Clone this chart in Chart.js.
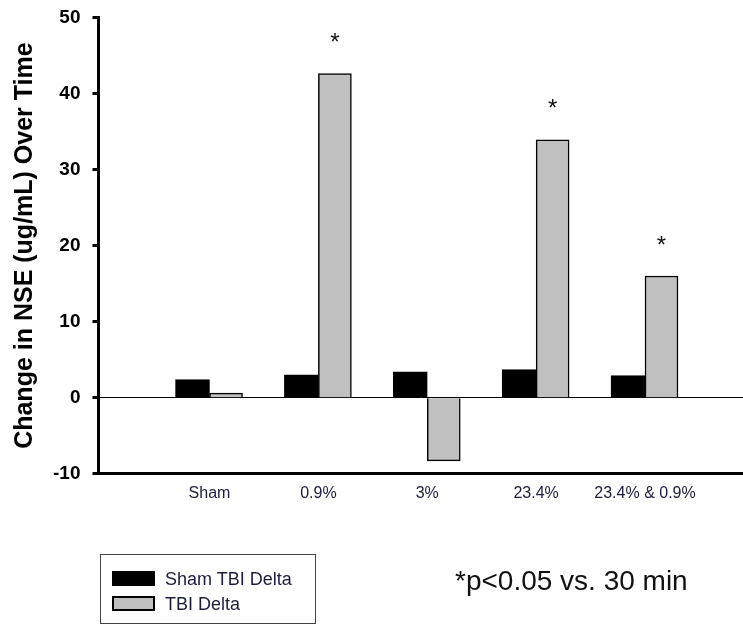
<!DOCTYPE html>
<html>
<head>
<meta charset="utf-8">
<script src="https://cdn.jsdelivr.net/npm/chart.js@4/dist/chart.umd.min.js"></script>
<style>
  body { margin: 0; background: #fff; }
  #wrap { position: relative; width: 743px; height: 625px; overflow: hidden; }
  #myChart { position: absolute; left: 0; top: -6px; }
  #legend {
    position: absolute; left: 100px; top: 554px; width: 214px; height: 68px;
    border: 1px solid #444; font-family: "Liberation Sans", Arial, sans-serif;
    font-size: 18px; color: #1c1c3c;
  }
  .item { position: absolute; left: 11px; height: 20px; line-height: 20px; }
  .swatch { position: absolute; left: 0; width: 43px; height: 15px; box-sizing: border-box; }
  .item span.txt { position: absolute; left: 53px; white-space: nowrap; }
  #note {
    position: absolute; left: 455px; top: 565px; font-family: "Liberation Sans", Arial, sans-serif;
    font-size: 28px; color: #111; white-space: nowrap;
  }
</style>
</head>
<body>
<div id="wrap">
  <canvas id="myChart" width="743" height="631"></canvas>
  <div id="legend"></div>
  <div id="note">*p&lt;0.05 vs. 30 min</div>
</div>
<script>
// groups along the x axis
const groups = ["Sham", "0.9%", "3%", "23.4%", "23.4% & 0.9%"];
// change in NSE
const shamTbiDelta = [2.4, 3.0, 3.4, 3.7, 2.9];
const tbiDelta = [0.6, 42.6, -8.3, 33.9, 16.0];
// which TBI bars carry a significance star
const significant = [false, true, false, true, true];
const yTicks = [-10, 0, 10, 20, 30, 40, 50];

const labelFont = "'Liberation Sans', Arial, sans-serif";

// draws "*" above the starred bars
const starPlugin = {
  id: "stars",
  afterDatasetsDraw(chart) {
    const ctx = chart.ctx;
    const meta = chart.getDatasetMeta(1);
    ctx.save();
    ctx.fillStyle = "#111";
    ctx.font = "24px " + labelFont;
    ctx.textAlign = "center";
    ctx.textBaseline = "middle";
    meta.data.forEach((bar, i) => {
      if (significant[i]) ctx.fillText("*", bar.x, bar.y - 30);
    });
    ctx.restore();
  }
};

const ctx = document.getElementById("myChart").getContext("2d");
const chart = new Chart(ctx, {
  type: "bar",
  data: {
    datasets: [
      {
        label: "Sham TBI Delta",
        data: shamTbiDelta.map((v, i) => ({ x: i + 1, y: v })),
        backgroundColor: "#000000",
        borderColor: "#000000",
        borderWidth: 1.5,
        barThickness: 34
      },
      {
        label: "TBI Delta",
        data: tbiDelta.map((v, i) => ({ x: i + 1, y: v })),
        backgroundColor: "#c0c0c0",
        borderColor: "#000000",
        borderWidth: 1.5,
        barThickness: 33
      }
    ]
  },
  options: {
    responsive: false,
    animation: false,
    layout: { padding: { top: 0, right: 0, bottom: 112, left: 3 } },
    plugins: {
      legend: { display: false },
      tooltip: { enabled: false }
    },
    scales: {
      x: {
        type: "linear",
        offset: false,
        min: -0.02,
        max: 5.9,
        afterBuildTicks: scale => { scale.ticks = groups.map((g, i) => ({ value: i + 1 })); },
        ticks: {
          callback: v => groups[v - 1],
          color: "#1c1c3c",
          font: { family: labelFont, size: 16 },
          padding: 10,
          maxRotation: 0,
          autoSkip: false
        },
        grid: { display: false, drawTicks: false },
        border: { display: true, color: "#000", width: 3 }
      },
      y: {
        min: -10,
        max: 50,
        afterBuildTicks: scale => { scale.ticks = yTicks.map(v => ({ value: v })); },
        ticks: {
          color: "#000",
          font: { family: labelFont, size: 19, weight: "bold" },
          padding: 12
        },
        grid: {
          color: c => (c.tick && c.tick.value === 0 ? "#000" : "rgba(0,0,0,0)"),
          lineWidth: 1,
          drawTicks: true,
          tickLength: 6,
          tickColor: "#000",
          tickWidth: 3
        },
        border: { display: true, color: "#000", width: 3 },
        title: {
          display: true,
          text: "Change in NSE (ug/mL) Over Time",
          color: "#000",
          font: { family: labelFont, size: 25, weight: "bold" },
          padding: { top: 7, bottom: 1 }
        }
      }
    }
  },
  plugins: [starPlugin]
});

// legend built from the datasets
const legend = document.getElementById("legend");
chart.data.datasets.forEach((ds, i) => {
  const item = document.createElement("div");
  item.className = "item";
  item.style.top = (i === 0 ? 14 : 39) + "px";
  const sw = document.createElement("div");
  sw.className = "swatch";
  sw.style.top = "2px";
  sw.style.background = ds.backgroundColor;
  sw.style.border = "2px solid " + ds.borderColor;
  const txt = document.createElement("span");
  txt.className = "txt";
  txt.textContent = ds.label;
  item.appendChild(sw);
  item.appendChild(txt);
  legend.appendChild(item);
});
</script>
</body>
</html>
